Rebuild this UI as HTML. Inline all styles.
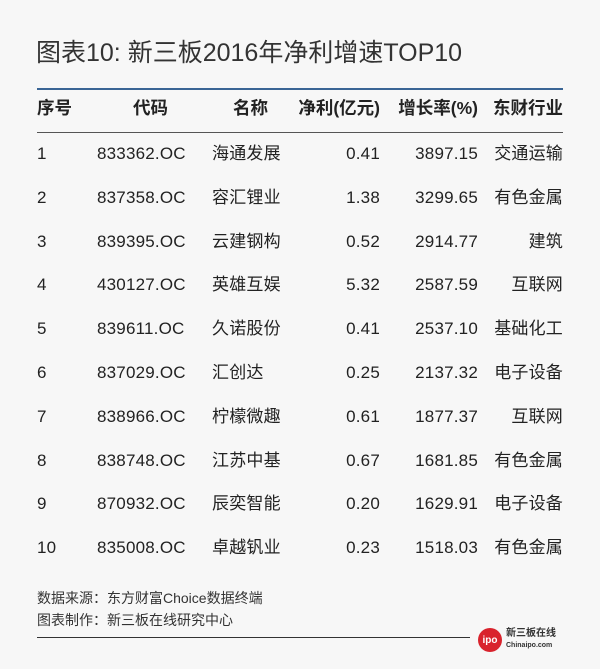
<!DOCTYPE html>
<html><head><meta charset="utf-8"><style>
body{margin:0;width:600px;height:669px;background:#f7f7f7;overflow:hidden;font-family:"Liberation Sans","Noto Sans CJK SC",sans-serif;color:#222;position:relative}
.a{position:absolute;white-space:nowrap;line-height:1}
.r{text-align:right}
.h{font-weight:bold;font-size:17.5px;top:100px}
.d{font-size:17px;letter-spacing:0.2px}
</style></head><body>
<div class="a" style="left:36px;top:41px;font-size:25px;color:#333">图表10: 新三板2016年净利增速TOP10</div>
<div class="a" style="left:37px;top:88px;width:526px;height:2px;background:#3a6595"></div>
<div class="a h" style="left:37px">序号</div>
<div class="a h" style="left:133px">代码</div>
<div class="a h" style="left:233px">名称</div>
<div class="a h r" style="right:220px">净利(亿元)</div>
<div class="a h r" style="right:122px">增长率(%)</div>
<div class="a h r" style="right:37px">东财行业</div>
<div class="a" style="left:37px;top:132px;width:526px;height:1px;background:#555"></div>
<div id="rows"></div>
<script>
var d=[["1","833362.OC","海通发展","0.41","3897.15","交通运输"],["2","837358.OC","容汇锂业","1.38","3299.65","有色金属"],["3","839395.OC","云建钢构","0.52","2914.77","建筑"],["4","430127.OC","英雄互娱","5.32","2587.59","互联网"],["5","839611.OC","久诺股份","0.41","2537.10","基础化工"],["6","837029.OC","汇创达","0.25","2137.32","电子设备"],["7","838966.OC","柠檬微趣","0.61","1877.37","互联网"],["8","838748.OC","江苏中基","0.67","1681.85","有色金属"],["9","870932.OC","辰奕智能","0.20","1629.91","电子设备"],["10","835008.OC","卓越钒业","0.23","1518.03","有色金属"]];
var h="";
d.forEach(function(r,i){var t=145+i*43.8;
h+='<div class="a d" style="left:37px;top:'+t+'px">'+r[0]+'</div>'+
'<div class="a d" style="left:97px;top:'+t+'px">'+r[1]+'</div>'+
'<div class="a d" style="left:212px;top:'+t+'px">'+r[2]+'</div>'+
'<div class="a d r" style="right:220px;top:'+t+'px">'+r[3]+'</div>'+
'<div class="a d r" style="right:122px;top:'+t+'px">'+r[4]+'</div>'+
'<div class="a d r" style="right:37px;top:'+t+'px">'+r[5]+'</div>';});
document.getElementById("rows").innerHTML=h;
</script>
<div class="a" style="left:37px;top:591px;font-size:14px;color:#333">数据来源：东方财富Choice数据终端</div>
<div class="a" style="left:37px;top:613px;font-size:14px;color:#333">图表制作：新三板在线研究中心</div>
<div class="a" style="left:37px;top:637px;width:433px;height:1px;background:#333"></div>
<div class="a" style="left:478px;top:628px;width:24px;height:24px;border-radius:50%;background:#d9232d;color:#fff;font-size:10px;font-weight:bold;text-align:center;line-height:26px">ipo</div>
<div class="a" style="left:506px;top:629px;font-size:10px;font-weight:bold;color:#333">新三板在线</div>
<div class="a" style="left:506px;top:642px;font-size:7px;font-weight:bold;color:#333">Chinaipo.com</div>
</body></html>
